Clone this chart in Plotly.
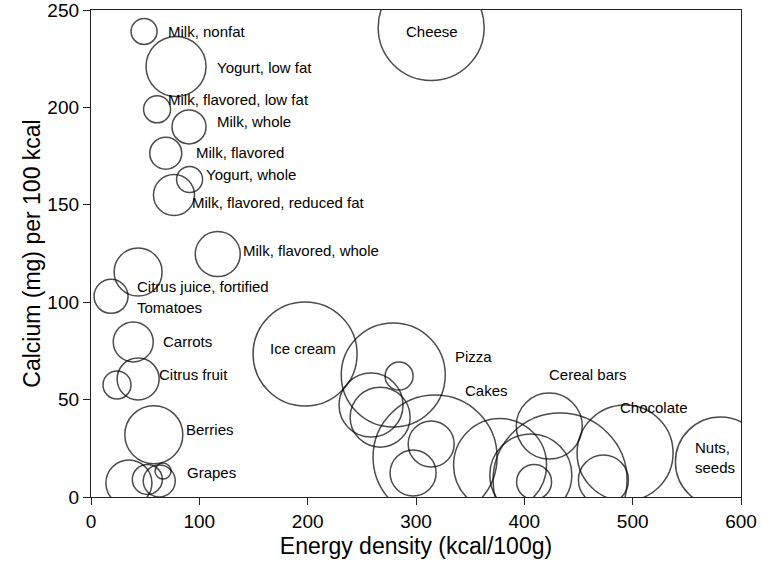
import plotly.graph_objects as go

# energy density (kcal/100g), calcium (mg per 100 kcal), bubble diameter
energy = [49, 78.5, 61, 90.5, 69, 91, 76.6, 117, 43.5, 18.5, 39, 43.5, 24, 58,
          35, 52, 63, 66.5,
          197.6, 279, 284.4, 258.5, 266.9, 317.6, 314, 297.3, 377.6, 423, 433,
          406, 409, 473, 493, 581, 314]
calcium = [239, 221, 199, 190, 176.5, 163, 155, 124.7, 115.5, 103, 79.6, 60.6, 57.5, 32,
           7.2, 9, 8.2, 13.3,
           73.4, 62.6, 62.1, 47.2, 41, 20.5, 27.2, 12.3, 16.4, 36.4, 8.7,
           11.3, 7.7, 8.7, 22.6, 18, 241]
bubble = [26, 60, 27, 34, 32, 26, 41, 45, 48, 34, 40, 42, 28, 58,
          46, 30, 32, 16,
          104, 104, 28, 64, 60, 124, 46, 46, 93, 66, 134,
          82, 35, 50, 96, 90, 106]

label_text = ["Milk, nonfat", "Yogurt, low fat", "Milk, flavored, low fat", "Milk, whole",
              "Milk, flavored", "Yogurt, whole", "Milk, flavored, reduced fat",
              "Milk, flavored, whole", "Citrus juice, fortified", "Tomatoes", "Carrots",
              "Citrus fruit", "Berries", "Grapes", "Ice cream", "Pizza", "Cakes",
              "Cereal bars", "Chocolate", "Nuts,<br>seeds", "Cheese"]
label_x = [69.3, 114.5, 69.3, 114.5, 95, 104, 91.4, 138.5, 40.6, 40.6, 64.6, 61, 86, 86.8,
           195.5, 334, 343, 420.8, 486.6, 555.9, 314.9]
label_y = [239.2, 220.7, 204.3, 193, 176.6, 165.8, 151, 126.3, 108.3, 97.5, 80, 63.1, 34.4,
           12.8, 76, 71.9, 54.6, 63.1, 45.7, 20.5, 239.2]
centered = {"Ice cream", "Cheese"}

font = "Liberation Sans, Arial, sans-serif"

fig = go.Figure()
fig.add_trace(go.Scatter(
    x=energy, y=calcium, mode="markers",
    marker=dict(size=bubble, sizemode="diameter", sizeref=1,
                color="rgba(0,0,0,0)", line=dict(color="black", width=1.5)),
    cliponaxis=True, hoverinfo="skip", showlegend=False))

for t, lx, ly in zip(label_text, label_x, label_y):
    fig.add_annotation(x=lx, y=ly, text=t, showarrow=False,
                       xanchor="center" if t in centered else "left",
                       yanchor="middle", align="left",
                       font=dict(family=font, size=15, color="black"))

axis_style = dict(showline=True, linecolor="#222", linewidth=1.3, mirror=True,
                  ticks="outside", ticklen=7, tickcolor="#222", showgrid=False,
                  zeroline=False, automargin=False, ticklabeloverflow="allow",
                  tickfont=dict(family=font, size=19, color="black"))

fig.update_xaxes(range=[0, 600], dtick=100,
                 title=dict(text="Energy density (kcal/100g)", standoff=6,
                            font=dict(family=font, size=23, color="black")),
                 **axis_style)
fig.update_yaxes(range=[0, 250], dtick=50,
                 title=dict(text="Calcium (mg) per 100 kcal", standoff=0,
                            font=dict(family=font, size=23, color="black")),
                 **axis_style)

fig.update_layout(width=763, height=577, plot_bgcolor="white", paper_bgcolor="white",
                  margin=dict(l=91, r=22, t=10, b=80))

# page body has an 8px default margin; drop it so the figure sits at 0,0
fig.write_html("out.html", config={"displayModeBar": False},
               post_script="document.body.style.margin='0';")
